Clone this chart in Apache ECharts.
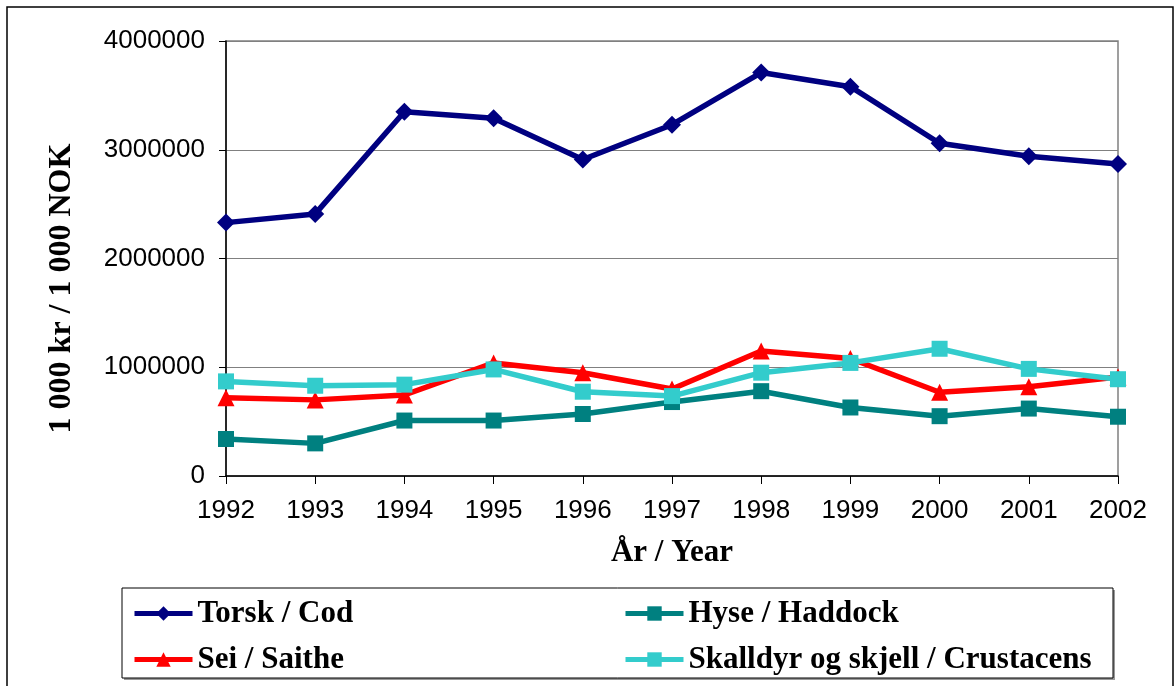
<!DOCTYPE html>
<html>
<head>
<meta charset="utf-8">
<script src="https://cdn.jsdelivr.net/npm/echarts@6/dist/echarts.min.js"></script>
<style>
html,body{margin:0;padding:0;background:#fff;}
#chart{width:1175px;height:686px;}
</style>
</head>
<body>
<div id="chart"></div>
<script>
const years = ['1992','1993','1994','1995','1996','1997','1998','1999','2000','2001','2002'];
const cod = [2330000, 2410000, 3350000, 3290000, 2910000, 3230000, 3710000, 3580000, 3060000, 2940000, 2870000];
const haddock = [340000, 300000, 510000, 510000, 570000, 680000, 780000, 630000, 550000, 620000, 545000];
const saithe = [720000, 700000, 745000, 1040000, 950000, 800000, 1150000, 1080000, 770000, 820000, 910000];
const crustaceans = [870000, 830000, 840000, 980000, 775000, 735000, 950000, 1040000, 1170000, 985000, 890000];
const yTicks = [0, 1000000, 2000000, 3000000, 4000000];

const names = ['Torsk / Cod', 'Hyse / Haddock', 'Sei / Saithe', 'Skalldyr og skjell / Crustacens'];
const colors = ['#000080', '#008080', '#FF0000', '#33CCCC'];
const symbols = ['diamond', 'rect', 'triangle', 'rect'];
const sizes = [18, 16, 17, 16];
const dataSets = [cod, haddock, saithe, crustaceans];

const chart = echarts.init(document.getElementById('chart'));
const legendFont = {fontFamily: 'Liberation Serif', fontWeight: 'bold', fontSize: 31, color: '#000'};
const legendPos = [[127, 593], [618, 593], [127, 639], [618, 639]];

chart.setOption({
  backgroundColor: '#fff',
  animation: false,
  graphic: [
    {type: 'rect', shape: {x: 7, y: 7, width: 1166, height: 720}, style: {fill: 'none', stroke: '#000', lineWidth: 1.5}, z: 100},
    {type: 'rect', shape: {x: 124, y: 590, width: 991, height: 90}, style: {fill: '#999'}, z: 0},
    {type: 'rect', shape: {x: 122, y: 588, width: 991, height: 90}, style: {fill: '#fff', stroke: '#000', lineWidth: 1}, z: 1}
  ],
  grid: {left: 226, right: 57, top: 41, bottom: 210, show: true, borderColor: '#808080', borderWidth: 1.5},
  legend: names.map((n, i) => ({
    data: [n], left: legendPos[i][0], top: legendPos[i][1],
    itemWidth: 58, itemHeight: 18, itemGap: 0, selectedMode: false,
    lineStyle: {width: 5},
    textStyle: legendFont, z: 10
  })),
  xAxis: {
    type: 'category', data: years, boundaryGap: false,
    axisLine: {lineStyle: {color: '#000', width: 1.5}},
    axisTick: {show: true, length: 8, lineStyle: {color: '#000'}},
    axisLabel: {fontFamily: 'Liberation Sans', fontSize: 26, color: '#000', margin: 22},
    name: 'År / Year', nameLocation: 'middle', nameGap: 61,
    nameTextStyle: {fontFamily: 'Liberation Serif', fontWeight: 'bold', fontSize: 31, color: '#000'},
    splitLine: {show: false}
  },
  yAxis: {
    type: 'value', min: yTicks[0], max: yTicks[yTicks.length - 1], interval: 1000000,
    axisLine: {show: true, lineStyle: {color: '#000', width: 1.5}},
    axisTick: {show: true, length: 7, lineStyle: {color: '#000'}},
    axisLabel: {fontFamily: 'Liberation Sans', fontSize: 26, color: '#000', margin: 21,
      formatter: v => String(v)},
    splitLine: {show: true, lineStyle: {color: '#808080', width: 1}},
    name: '1 000 kr / 1 000 NOK', nameLocation: 'middle', nameGap: 148,
    nameTextStyle: {fontFamily: 'Liberation Serif', fontWeight: 'bold', fontSize: 32, color: '#000',
      padding: [0, 60, 0, 0]}
  },
  series: names.map((n, i) => ({
    name: n, type: 'line', data: dataSets[i],
    symbol: symbols[i], symbolSize: sizes[i], showSymbol: true,
    lineStyle: {color: colors[i], width: 5.5},
    itemStyle: {color: colors[i]},
    z: 3 + i
  }))
});
</script>
</body>
</html>
